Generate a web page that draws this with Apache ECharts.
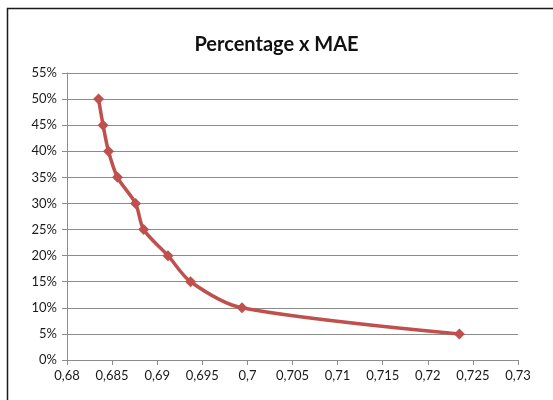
<!DOCTYPE html>
<html><head><meta charset="utf-8">
<script src="https://cdn.jsdelivr.net/npm/echarts@6/dist/echarts.min.js"></script>
<style>html,body{margin:0;padding:0;background:#fff}#c{width:553px;height:400px}</style>
</head><body><div id="c"></div>
<script>
const title = "Percentage x MAE";
const maeValues = [0.6835, 0.6840, 0.6846, 0.6856, 0.6876, 0.6885, 0.6912, 0.6937, 0.6994, 0.7235];
const percentValues = [50, 45, 40, 35, 30, 25, 20, 15, 10, 5];
const xTicks = {min: 0.68, max: 0.73, step: 0.005};
const yTicks = {min: 0, max: 55, step: 5};

const chart = echarts.init(document.getElementById('c'), null, {renderer: 'canvas'});
const font = 'Lato, "Open Sans", sans-serif';
chart.setOption({
  animation: false,
  backgroundColor: '#fff',
  graphic: [{
    type: 'polyline', silent: true,
    shape: {points: [[7.5, 420], [7.5, 8.5], [570, 8.5]]},
    style: {fill: null, stroke: '#1a1a1a', lineWidth: 1.5}
  }],
  title: {
    text: title, left: 'center', top: 30,
    textStyle: {fontFamily: font, fontSize: 20, fontWeight: 'bold', color: '#111'}
  },
  grid: {left: 67, right: 35, top: 73, bottom: 40, containLabel: false},
  xAxis: {
    type: 'value', min: xTicks.min, max: xTicks.max, interval: xTicks.step,
    axisLine: {show: true, lineStyle: {color: '#8c8c8c', width: 1}},
    axisTick: {show: true, length: 5, lineStyle: {color: '#8c8c8c'}},
    splitLine: {show: false},
    axisLabel: {
      fontFamily: font, fontSize: 13, color: '#1a1a1a', margin: 9,
      formatter: v => String(+v.toFixed(3)).replace('.', ',')
    }
  },
  yAxis: {
    type: 'value', min: yTicks.min, max: yTicks.max, interval: yTicks.step,
    axisLine: {show: true, lineStyle: {color: '#8c8c8c', width: 1}},
    axisTick: {show: true, length: 5, lineStyle: {color: '#8c8c8c'}},
    splitLine: {show: true, lineStyle: {color: '#8c8c8c', width: 1}},
    axisLabel: {
      fontFamily: font, fontSize: 13, color: '#1a1a1a', margin: 10,
      formatter: v => Math.round(v) + '%'
    }
  },
  series: [{
    type: 'line',
    data: maeValues.map((x, i) => [x, percentValues[i]]),
    smooth: 0.3,
    symbol: 'diamond', symbolSize: 11,
    lineStyle: {color: '#C0504D', width: 3.5},
    itemStyle: {color: '#C0504D'}
  }]
});
</script></body></html>
